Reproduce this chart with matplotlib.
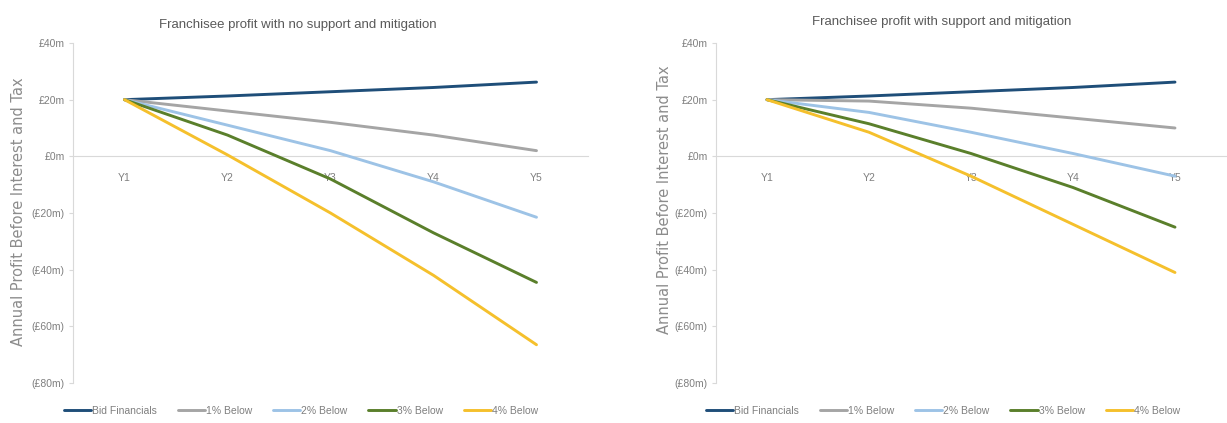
import matplotlib
matplotlib.use('Agg')
import matplotlib.pyplot as plt
from matplotlib.ticker import FixedLocator

plt.rcParams['font.family'] = ['Liberation Sans Narrow', 'Liberation Sans', 'DejaVu Sans']

years = ['Y1', 'Y2', 'Y3', 'Y4', 'Y5']
series_names = ['Bid Financials', '1% Below', '2% Below', '3% Below', '4% Below']
series_colors = ['#1f4e79', '#a5a5a5', '#9dc3e6', '#5a7f2b', '#f5c02c']

# Franchisee profit with no support and mitigation (GBP m)
no_support = [
    [20, 21.3, 22.8, 24.3, 26.2],
    [20, 16.0, 12.0, 7.5, 2.0],
    [20, 11.0, 2.0, -9.0, -21.5],
    [20, 7.5, -8.0, -27.0, -44.5],
    [20, 0.5, -20.0, -42.0, -66.5],
]

# Franchisee profit with support and mitigation (GBP m)
with_support = [
    [20, 21.3, 22.8, 24.3, 26.2],
    [20, 19.5, 17.0, 13.5, 10.0],
    [20, 15.5, 8.5, 1.0, -7.0],
    [20, 11.5, 1.0, -11.0, -25.0],
    [20, 8.5, -7.0, -24.0, -41.0],
]

y_ticks = [40, 20, 0, -20, -40, -60, -80]
y_tick_labels = ['£40m', '£20m', '£0m', '(£20m)', '(£40m)', '(£60m)', '(£80m)']

TEXT = '#7f7f7f'
GRID = '#d9d9d9'

fig = plt.figure(figsize=(12.27, 4.23), dpi=100)

# pixel positions: axes left/right edge, title x/y, y-label x/y, legend centre x
panels = [
    (73, 588, no_support, 'Franchisee profit with no support and mitigation', 298, 25, 19, 212, 301),
    (716, 1226, with_support, 'Franchisee profit with support and mitigation', 942, 22, 664, 200, 943),
]

for x0, x1, data, title, tx, ty, lx, ly, legx in panels:
    ax = fig.add_axes([x0 / 1227, 1 - 383 / 423, (x1 - x0) / 1227, (383 - 43) / 423])
    xs = list(range(1, len(years) + 1))
    for vals, name, col in zip(data, series_names, series_colors):
        ax.plot(xs, vals, color=col, lw=2.1, label=name, solid_capstyle='round')

    ax.set_xlim(0.5, 5.5)
    ax.set_ylim(-80, 40)
    ax.yaxis.set_major_locator(FixedLocator(y_ticks))
    ax.set_yticklabels(y_tick_labels)
    ax.set_xticks(xs)
    ax.set_xticklabels(years)

    for s in ['top', 'right']:
        ax.spines[s].set_visible(False)
    ax.spines['bottom'].set_position(('data', 0))
    ax.spines['bottom'].set_color(GRID)
    ax.spines['left'].set_color(GRID)
    ax.spines['bottom'].set_zorder(0)
    ax.tick_params(axis='x', length=0, pad=12, labelsize=7.5, labelcolor=TEXT)
    ax.tick_params(axis='y', length=3, color=GRID, pad=3, labelsize=7.5, labelcolor=TEXT)

    fig.text(tx / 1227, 1 - ty / 423, title, ha='center', va='center',
             fontsize=9.5, color='#595959')
    fig.text(lx / 1227, 1 - ly / 423, 'Annual Profit Before Interest and Tax',
             rotation=90, ha='center', va='center', fontsize=10.5, color='#8c8c8c',
             family=['DejaVu Sans'])

    handles, labels = ax.get_legend_handles_labels()
    fig.legend(handles, labels, ncol=5, loc='center',
               bbox_to_anchor=(legx / 1227, 1 - 411 / 423),
               frameon=False, fontsize=7.5, labelcolor=TEXT, handlelength=2.6,
               handletextpad=0.1, columnspacing=2.0)

fig.savefig('out.png', dpi=100, facecolor='white')
